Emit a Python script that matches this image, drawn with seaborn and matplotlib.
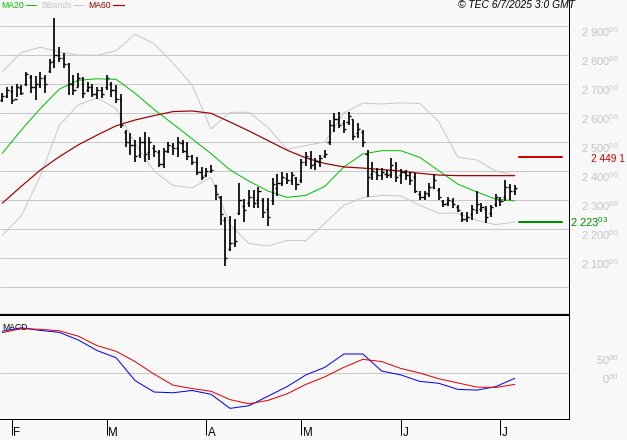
import matplotlib
matplotlib.use("Agg")
import matplotlib.pyplot as plt
import matplotlib.transforms as mtrans
import seaborn as sns

# ---------------- data ----------------
highs = [2670, 2690, 2693, 2700, 2697, 2743, 2731, 2728, 2743, 2731,
         2785, 2926, 2829, 2806, 2771, 2731, 2737, 2725, 2708, 2700,
         2689, 2691, 2731, 2708, 2697, 2664, 2541, 2530, 2507, 2518,
         2536, 2518, 2490, 2472, 2478, 2501, 2495, 2518, 2507, 2501,
         2455, 2449, 2415, 2409, 2421, 2352, 2314, 2240, 2244, 2235,
         2360, 2304, 2335, 2335, 2346, 2308, 2306, 2375, 2390, 2398,
         2393, 2398, 2380, 2443, 2465, 2468, 2446, 2455, 2472, 2576,
         2599, 2605, 2576, 2605, 2576, 2564, 2541, 2472, 2432, 2409,
         2409, 2403, 2444, 2432, 2406, 2404, 2398, 2392, 2332, 2332,
         2357, 2389, 2340, 2300, 2311, 2306, 2283, 2260, 2260, 2283,
         2332, 2289, 2280, 2283, 2320, 2310, 2369, 2355, 2352]
lows = [2639, 2651, 2630, 2654, 2662, 2693, 2670, 2645, 2685, 2668,
        2737, 2754, 2777, 2754, 2662, 2662, 2691, 2651, 2674, 2654,
        2647, 2651, 2679, 2656, 2633, 2547, 2484, 2455, 2432, 2444,
        2432, 2438, 2449, 2415, 2409, 2461, 2455, 2449, 2461, 2438,
        2421, 2386, 2369, 2380, 2392, 2300, 2214, 2073, 2125, 2139,
        2248, 2225, 2275, 2272, 2274, 2237, 2212, 2283, 2314, 2349,
        2355, 2352, 2335, 2357, 2418, 2406, 2403, 2415, 2444, 2490,
        2536, 2547, 2530, 2559, 2507, 2513, 2484, 2311, 2369, 2369,
        2369, 2375, 2375, 2363, 2355, 2370, 2352, 2323, 2300, 2300,
        2311, 2337, 2300, 2277, 2280, 2274, 2257, 2223, 2225, 2231,
        2250, 2257, 2222, 2243, 2277, 2278, 2298, 2300, 2317]
opens = [2645, 2660, 2675, 2650, 2685, 2700, 2725, 2690, 2700, 2720,
         2745, 2780, 2800, 2790, 2770, 2700, 2690, 2720, 2680, 2690,
         2665, 2680, 2690, 2700, 2680, 2650, 2535, 2500, 2490, 2455,
         2500, 2465, 2480, 2465, 2425, 2470, 2485, 2480, 2495, 2470,
         2450, 2430, 2395, 2385, 2400, 2350, 2310, 2230, 2130, 2150,
         2255, 2280, 2290, 2310, 2300, 2300, 2270, 2300, 2340, 2360,
         2375, 2370, 2375, 2370, 2430, 2445, 2425, 2430, 2450, 2500,
         2560, 2580, 2565, 2570, 2580, 2530, 2535, 2460, 2390, 2395,
         2385, 2390, 2390, 2405, 2385, 2395, 2385, 2380, 2320, 2310,
         2320, 2345, 2335, 2295, 2290, 2295, 2275, 2250, 2235, 2250,
         2265, 2270, 2270, 2255, 2285, 2300, 2310, 2345, 2330]
closes = [2660, 2680, 2645, 2690, 2670, 2735, 2690, 2700, 2720, 2700,
          2775, 2800, 2790, 2770, 2700, 2680, 2720, 2670, 2690, 2665,
          2680, 2665, 2720, 2680, 2650, 2560, 2500, 2490, 2450, 2500,
          2460, 2500, 2470, 2425, 2470, 2490, 2480, 2500, 2470, 2450,
          2430, 2395, 2380, 2400, 2405, 2320, 2250, 2100, 2150, 2160,
          2300, 2265, 2310, 2290, 2330, 2260, 2240, 2355, 2360, 2380,
          2370, 2385, 2355, 2430, 2450, 2420, 2435, 2445, 2460, 2560,
          2580, 2560, 2545, 2590, 2520, 2545, 2500, 2380, 2400, 2385,
          2395, 2385, 2420, 2380, 2395, 2385, 2370, 2330, 2310, 2325,
          2345, 2370, 2310, 2285, 2300, 2285, 2265, 2235, 2240, 2270,
          2285, 2275, 2240, 2275, 2310, 2295, 2345, 2330, 2340]

month_labels = ["F", "M", "A", "M", "J", "J"]
month_pos = [2, 22, 43, 63, 84, 105]

line_idx = list(range(0, 109, 4))
ma20 = [2461, 2541, 2615, 2682, 2713, 2718, 2716, 2668, 2612, 2562,
        2511, 2460, 2404, 2365, 2331, 2309, 2316, 2347, 2414, 2459,
        2470, 2470, 2447, 2401, 2355, 2328, 2303, 2297]
ma60 = [2289, 2347, 2403, 2449, 2490, 2524, 2556, 2576, 2591, 2605,
        2607, 2599, 2569, 2538, 2505, 2472, 2445, 2426, 2414, 2410,
        2405, 2400, 2392, 2386, 2384, 2384, 2384, 2384]
bb_up = [2743, 2808, 2827, 2810, 2800, 2799, 2815, 2872, 2839, 2772,
         2696, 2545, 2602, 2603, 2550, 2475, 2488, 2500, 2600, 2634,
         2631, 2635, 2633, 2570, 2448, 2438, 2400, 2385]
bb_lo = [2179, 2245, 2382, 2556, 2628, 2652, 2615, 2495, 2400, 2350,
         2342, 2378, 2215, 2150, 2142, 2160, 2160, 2220, 2282, 2308,
         2316, 2314, 2282, 2254, 2255, 2230, 2215, 2224]
macd = [110, 119, 112, 107, 87, 59, 40, -20, -50, -52,
        -46, -56, -93, -86, -61, -36, -5, 15, 50, 50,
        5, -5, -22, -27, -43, -45, -36, -14]
signal = [106, 117, 115, 111, 97, 72, 57, 30, -3, -32,
          -41, -48, -70, -81, -72, -55, -30, -10, 15, 36,
          30, 12, 0, -15, -26, -37, -38, -30]

price_grid = [2000, 2100, 2200, 2300, 2400, 2500, 2600, 2700, 2800, 2900]
price_ticks = [2100, 2200, 2300, 2400, 2500, 2600, 2700, 2800, 2900]
macd_ticks = [0, 50]
resistance = 2449.1
support = 2223.03
resistance_label = "2 449 1"
support_label = r"2 223$^{\mathregular{03}}$"

# ---------------- style ----------------
sns.set_theme(style="white")
plt.rcParams["font.family"] = ["Liberation Sans", "DejaVu Sans"]
plt.rcParams["mathtext.fontset"] = "custom"
plt.rcParams["mathtext.rm"] = "Liberation Sans"
plt.rcParams["mathtext.it"] = "Liberation Sans:italic"

BG = "#f8f8f8"
GRID = "#c8c8c8"
LBL = "#c4c4c4"
C_MA20 = "#00c000"
C_MA60 = "#990000"
C_BB = "#c8c8c8"
PX = 0.72  # points per pixel at dpi 100

W, H = 627, 440
fig = plt.figure(figsize=(W / 100, H / 100), dpi=100, facecolor=BG)
ax = fig.add_axes([0, (H - 315) / H, 569 / W, 315 / H], facecolor=BG)
axm = fig.add_axes([0, (H - 419) / H, 569 / W, (419 - 316) / H], facecolor=BG)

idx = list(range(len(highs)))

# grid
for g in price_grid:
    ax.axhline(g, color=GRID, lw=1 * PX, zorder=0)
axm.axhline(0, color=GRID, lw=1 * PX, zorder=0)

# lines
sns.lineplot(x=line_idx, y=bb_up, ax=ax, color=C_BB, lw=1 * PX, label="BBands", zorder=1)
sns.lineplot(x=line_idx, y=bb_lo, ax=ax, color=C_BB, lw=1 * PX, legend=False, zorder=1)
sns.lineplot(x=line_idx, y=ma20, ax=ax, color=C_MA20, lw=1 * PX, label="MA20", zorder=2)
sns.lineplot(x=line_idx, y=ma60, ax=ax, color=C_MA60, lw=1.2 * PX, label="MA60", zorder=2)

# OHLC bars
ax.vlines(idx, lows, highs, color="black", lw=1.7 * PX, zorder=3)
ax.hlines(opens, [i - 0.45 for i in idx], idx, color="black", lw=1.4 * PX, zorder=3)
ax.hlines(closes, idx, [i + 0.45 for i in idx], color="black", lw=1.4 * PX, zorder=3)

# legend
h, l = ax.get_legend_handles_labels()
order = [l.index("MA20"), l.index("BBands"), l.index("MA60")]
leg = ax.legend([h[i] for i in order], [l[i] for i in order], ncol=3, markerfirst=False,
                loc="upper left", bbox_to_anchor=(0, 1), frameon=False, fontsize=6.2,
                handlelength=1.2, handletextpad=0.25, columnspacing=0.55,
                borderpad=0.05, borderaxespad=0.05,
                labelcolor=[C_MA20, C_BB, C_MA60])

# resistance / support markers
ax.axhline(resistance, xmin=519 / 569, xmax=562 / 569, color="#cc0000", lw=2 * PX, zorder=3)
ax.axhline(support, xmin=519 / 569, xmax=562 / 569, color="#008c00", lw=2 * PX, zorder=3)
tr = mtrans.blended_transform_factory(ax.transAxes, ax.transData)
down2 = mtrans.ScaledTranslation(0, -2.5 / 100, fig.dpi_scale_trans)
ax.text(1 + 22 / 569, resistance, resistance_label, transform=tr + down2, color="#cc0000",
        fontsize=7.3, ha="left", va="center", clip_on=False)
ax.text(1 + 1 / 569, support, support_label, transform=tr, color="#008c00",
        fontsize=8.0, ha="left", va="center", clip_on=False)

# axes ranges
ax.set_xlim(-0.485, 119.46)
axm.set_xlim(-0.485, 119.46)
ax.set_ylim(1903.4, 2989.7)
axm.set_ylim(-121, 150)

# MACD
sns.lineplot(x=line_idx, y=macd, ax=axm, color="#0000ee", lw=1 * PX, legend=False, zorder=3)
sns.lineplot(x=line_idx, y=signal, ax=axm, color="#e00000", lw=1 * PX, legend=False, zorder=3)
axm.text(2 / 569, (419 - 327) / 103, "MACD", transform=axm.transAxes, fontsize=6.2,
         color="black", ha="left", va="center", zorder=1)

# spines
for a in (ax, axm):
    a.spines["left"].set_visible(False)
    a.spines["top"].set_visible(False)
    a.spines["right"].set_color("black")
    a.spines["right"].set_linewidth(1 * PX)
ax.spines["bottom"].set_color("black")
ax.spines["bottom"].set_linewidth(2.2 * PX)
axm.spines["bottom"].set_color("black")
axm.spines["bottom"].set_linewidth(1 * PX)
ax.set_xlabel("")
ax.set_ylabel("")
axm.set_xlabel("")
axm.set_ylabel("")

# y tick labels on the right
def fmt(v):
    s = f"{v:,}".replace(",", " ")
    return s + r"$^{\mathregular{00}}$"

ax.yaxis.tick_right()
axm.yaxis.tick_right()
ax.set_yticks(price_ticks, [fmt(v) for v in price_ticks])
axm.set_yticks(macd_ticks, [fmt(v) for v in macd_ticks])
for a in (ax, axm):
    a.tick_params(axis="y", length=0, pad=50 * PX, labelsize=8.0, labelcolor=LBL,
                  right=True, left=False)
    off = mtrans.ScaledTranslation(0, -5 / 100, fig.dpi_scale_trans)
    for lab in a.get_yticklabels():
        lab.set_horizontalalignment("right")
        lab.set_transform(lab.get_transform() + off)

# x ticks (month starts)
ax.set_xticks([])
axm.set_xticks(month_pos, month_labels)
axm.tick_params(axis="x", direction="out", length=16 * PX, width=1 * PX, color="black",
                bottom=True, pad=-8.0 * PX, labelsize=8.3, labelcolor="black")
xoff = mtrans.ScaledTranslation(1.5 / 100, 0, fig.dpi_scale_trans)
for lab in axm.get_xticklabels():
    lab.set_horizontalalignment("left")
    lab.set_transform(lab.get_transform() + xoff)

# copyright
fig.text(575 / W, 1 - 4.5 / H, "© TEC 6/7/2025 3:0 GMT", ha="right", va="center",
         fontsize=7.4, style="italic", color="black")

fig.savefig("out.png", dpi=100, facecolor=BG)
